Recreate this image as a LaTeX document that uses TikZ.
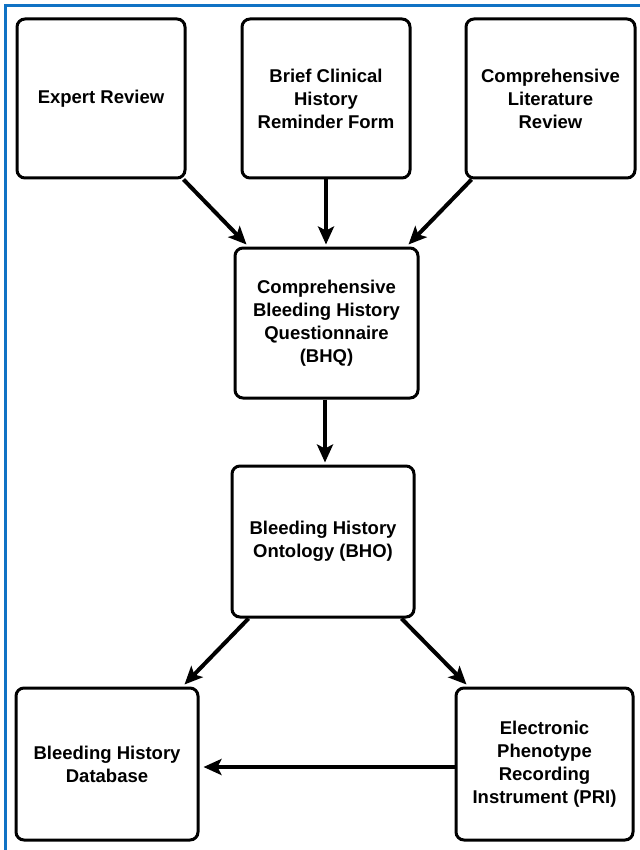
\documentclass[tikz,border=0pt]{standalone}
\usepackage{fontspec}
\setmainfont{Liberation Sans}
\usetikzlibrary{arrows.meta,calc}
\definecolor{frameblue}{RGB}{16,114,196}
\tikzset{
  box/.style={draw=black, line width=3pt, rounded corners=8pt, fill=white,
    align=center, inner sep=0pt, font=\fontsize{18.5}{23}\selectfont\bfseries},
  conn/.style={draw=black, line width=4pt,
    -{Stealth[length=18pt,width=16pt,inset=4pt]}},
}
\begin{document}
\begin{tikzpicture}[x=1pt,y=-1pt]
\useasboundingbox (0,0) rectangle (639,850);
\fill[white] (0,0) rectangle (639,850);
\draw[frameblue, line width=3pt] (5,852) -- (5,6) -- (641,6);

\node[box, minimum width=168pt, minimum height=159pt] (er) at (101,98.5) {Expert Review};
\node[box, minimum width=168pt, minimum height=159pt] (bc) at (326,98.5) {Brief Clinical\\History\\Reminder Form};
\node[box, minimum width=169pt, minimum height=159pt] (cl) at (550.5,98.5) {Comprehensive\\Literature\\Review};
\node[box, minimum width=183pt, minimum height=150pt] (bhq) at (326.5,323) {Comprehensive\\Bleeding History\\Questionnaire\\(BHQ)};
\node[box, minimum width=182pt, minimum height=151pt] (bho) at (323,541.5) {Bleeding History\\Ontology (BHO)};
\node[box, minimum width=182pt, minimum height=152pt] (db) at (107,764) {Bleeding History\\Database};
\node[box, minimum width=177pt, minimum height=152pt] (pri) at (544.5,764) {Electronic\\Phenotype\\Recording\\Instrument (PRI)};

\draw[conn] ($(er.south east)+(-3,0)$) -- ($(bhq.north west)+(13,-2)$);
\draw[conn] (bc.south) -- ($(bc.south |- bhq.north)+(0,-2)$);
\draw[conn] ($(cl.south west)+(7,0)$) -- ($(bhq.north east)+(-11,-2)$);
\draw[conn] ($(bhq.south)+(-1.5,0)$) -- ($(bhq.south |- bho.north)+(-1.5,-2)$);
\draw[conn] ($(bho.south west)+(18,0)$) -- ($(db.north east)+(-15,-2)$);
\draw[conn] ($(bho.south east)+(-14,0)$) -- ($(pri.north west)+(12,-2)$);
\draw[conn] ($(pri.west)+(0,3)$) -- ($(db.east)+(4,3)$);
\end{tikzpicture}
\end{document}
